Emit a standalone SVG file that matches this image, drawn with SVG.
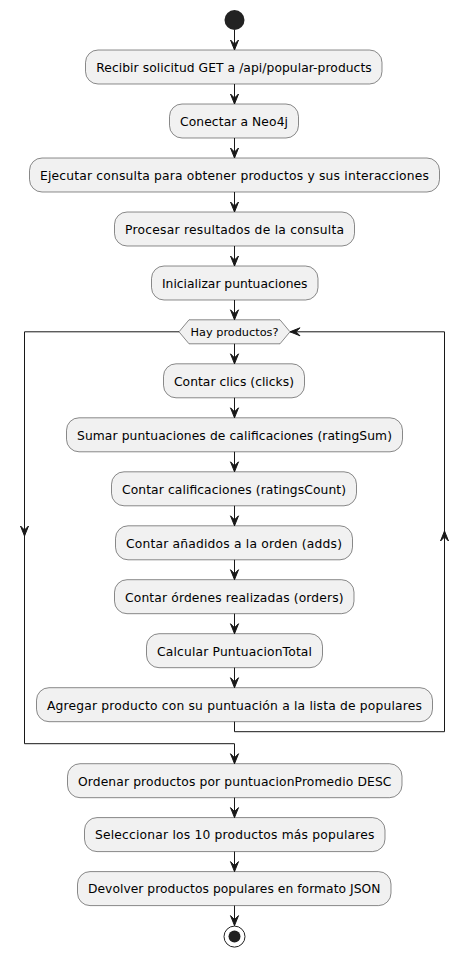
<svg xmlns="http://www.w3.org/2000/svg" width="469" height="957" viewBox="0 0 469 957">
<style>
.box{fill:#F1F1F1;stroke:#181818;stroke-width:0.5}
.t{font-family:"DejaVu Sans","Liberation Sans",sans-serif;font-size:12.3px;fill:#000;text-anchor:middle}
.ts{font-family:"DejaVu Sans","Liberation Sans",sans-serif;font-size:11.3px;fill:#000;text-anchor:middle}
.ln{fill:none;stroke:#181818;stroke-width:1}
.ah{fill:#181818;stroke:#181818;stroke-width:1}
</style>
<rect width="469" height="957" fill="#FFFFFF"/>
<g id="start"><circle cx="234.5" cy="20" r="10" fill="#222222"/></g>
<g id="n1"><rect class="box" x="85.5" y="50" width="296.5" height="34" rx="12.5"/><text class="t" x="234" y="71.8" textLength="275.5" lengthAdjust="spacing">Recibir solicitud GET a /api/popular-products</text></g>
<g id="n2"><rect class="box" x="169.5" y="104" width="129" height="34" rx="12.5"/><text class="t" x="234" y="125.8" textLength="108" lengthAdjust="spacing">Conectar a Neo4j</text></g>
<g id="n3"><rect class="box" x="29.5" y="158" width="410" height="34" rx="12.5"/><text class="t" x="234.5" y="179.8" textLength="389" lengthAdjust="spacing">Ejecutar consulta para obtener productos y sus interacciones</text></g>
<g id="n4"><rect class="box" x="114.5" y="212" width="240" height="34" rx="12.5"/><text class="t" x="234.5" y="233.8" textLength="219" lengthAdjust="spacing">Procesar resultados de la consulta</text></g>
<g id="n5"><rect class="box" x="151.5" y="266" width="166.5" height="34" rx="12.5"/><text class="t" x="234.7" y="287.8" textLength="145.5" lengthAdjust="spacing">Inicializar puntuaciones</text></g>
<g id="d1"><polygon class="box" points="189,319.8 280,319.8 290,331.8 280,343.8 189,343.8 179,331.8"/><text class="ts" x="234.5" y="335.8" textLength="88" lengthAdjust="spacing">Hay productos?</text></g>
<g id="n6"><rect class="box" x="163.5" y="363.8" width="141" height="34" rx="12.5"/><text class="t" x="234" y="385.6" textLength="120" lengthAdjust="spacing">Contar clics (clicks)</text></g>
<g id="n7"><rect class="box" x="66.5" y="417.8" width="336" height="34" rx="12.5"/><text class="t" x="234.5" y="439.6" textLength="315" lengthAdjust="spacing">Sumar puntuaciones de calificaciones (ratingSum)</text></g>
<g id="n8"><rect class="box" x="111.5" y="471.8" width="245" height="34" rx="12.5"/><text class="t" x="234" y="493.6" textLength="224" lengthAdjust="spacing">Contar calificaciones (ratingsCount)</text></g>
<g id="n9"><rect class="box" x="115.5" y="525.8" width="237" height="34" rx="12.5"/><text class="t" x="234" y="547.6" textLength="216" lengthAdjust="spacing">Contar añadidos a la orden (adds)</text></g>
<g id="n10"><rect class="box" x="114.5" y="579.7" width="239.5" height="34" rx="12.5"/><text class="t" x="234.3" y="601.5" textLength="218.5" lengthAdjust="spacing">Contar órdenes realizadas (orders)</text></g>
<g id="n11"><rect class="box" x="146.5" y="633.7" width="176" height="34" rx="12.5"/><text class="t" x="234.5" y="655.5" textLength="155" lengthAdjust="spacing">Calcular PuntuacionTotal</text></g>
<g id="n12"><rect class="box" x="36.5" y="687.7" width="396" height="34" rx="12.5"/><text class="t" x="234.5" y="709.5" textLength="375" lengthAdjust="spacing">Agregar producto con su puntuación a la lista de populares</text></g>
<g id="n13"><rect class="box" x="67.5" y="763.7" width="334.5" height="34" rx="12.5"/><text class="t" x="234.7" y="785.5" textLength="313.5" lengthAdjust="spacing">Ordenar productos por puntuacionPromedio DESC</text></g>
<g id="n14"><rect class="box" x="84.5" y="817.6" width="300.5" height="34" rx="12.5"/><text class="t" x="234.7" y="839.4" textLength="279.5" lengthAdjust="spacing">Seleccionar los 10 productos más populares</text></g>
<g id="n15"><rect class="box" x="77.5" y="871.6" width="313.5" height="34" rx="12.5"/><text class="t" x="234.2" y="893.4" textLength="292.5" lengthAdjust="spacing">Devolver productos populares en formato JSON</text></g>
<g id="end"><circle cx="234.5" cy="936.6" r="10.5" fill="none" stroke="#222222" stroke-width="1"/><circle cx="234.5" cy="936.6" r="6" fill="#222222"/></g>
<g id="connectors">
<path class="ln" d="M234.5,30 V50 M234.5,84 V104 M234.5,138 V158 M234.5,192 V212 M234.5,246 V266 M234.5,300 V319.8 M234.5,343.8 V363.8 M234.5,397.8 V417.8 M234.5,451.8 V471.8 M234.5,505.8 V525.8 M234.5,559.8 V579.7 M234.5,613.7 V633.7 M234.5,667.7 V687.7 M234.5,797.7 V817.6 M234.5,851.6 V871.6 M234.5,905.6 V925.6"/>
<path class="ln" d="M234.5,721.7 V731.7 H444.5 V331.8 H290"/>
<path class="ln" d="M179,331.8 H24.5 V743.7 H234.5 V763.7"/>
<g class="ah">
<polygon points="230.5,40 234.5,50 238.5,40 234.5,44"/>
<polygon points="230.5,94 234.5,104 238.5,94 234.5,98"/>
<polygon points="230.5,148 234.5,158 238.5,148 234.5,152"/>
<polygon points="230.5,202 234.5,212 238.5,202 234.5,206"/>
<polygon points="230.5,256 234.5,266 238.5,256 234.5,260"/>
<polygon points="230.5,309.8 234.5,319.8 238.5,309.8 234.5,313.8"/>
<polygon points="230.5,353.8 234.5,363.8 238.5,353.8 234.5,357.8"/>
<polygon points="230.5,407.8 234.5,417.8 238.5,407.8 234.5,411.8"/>
<polygon points="230.5,461.8 234.5,471.8 238.5,461.8 234.5,465.8"/>
<polygon points="230.5,515.8 234.5,525.8 238.5,515.8 234.5,519.8"/>
<polygon points="230.5,569.7 234.5,579.7 238.5,569.7 234.5,573.7"/>
<polygon points="230.5,623.7 234.5,633.7 238.5,623.7 234.5,627.7"/>
<polygon points="230.5,677.7 234.5,687.7 238.5,677.7 234.5,681.7"/>
<polygon points="230.5,753.7 234.5,763.7 238.5,753.7 234.5,757.7"/>
<polygon points="230.5,807.6 234.5,817.6 238.5,807.6 234.5,811.6"/>
<polygon points="230.5,861.6 234.5,871.6 238.5,861.6 234.5,865.6"/>
<polygon points="230.5,915.6 234.5,925.6 238.5,915.6 234.5,919.6"/>
<polygon points="20.5,526 24.5,536 28.5,526 24.5,530"/>
<polygon points="440.5,541 444.5,531 448.5,541 444.5,537"/>
<polygon points="300,327.8 290,331.8 300,335.8 296,331.8"/>
</g>
</g>
</svg>
